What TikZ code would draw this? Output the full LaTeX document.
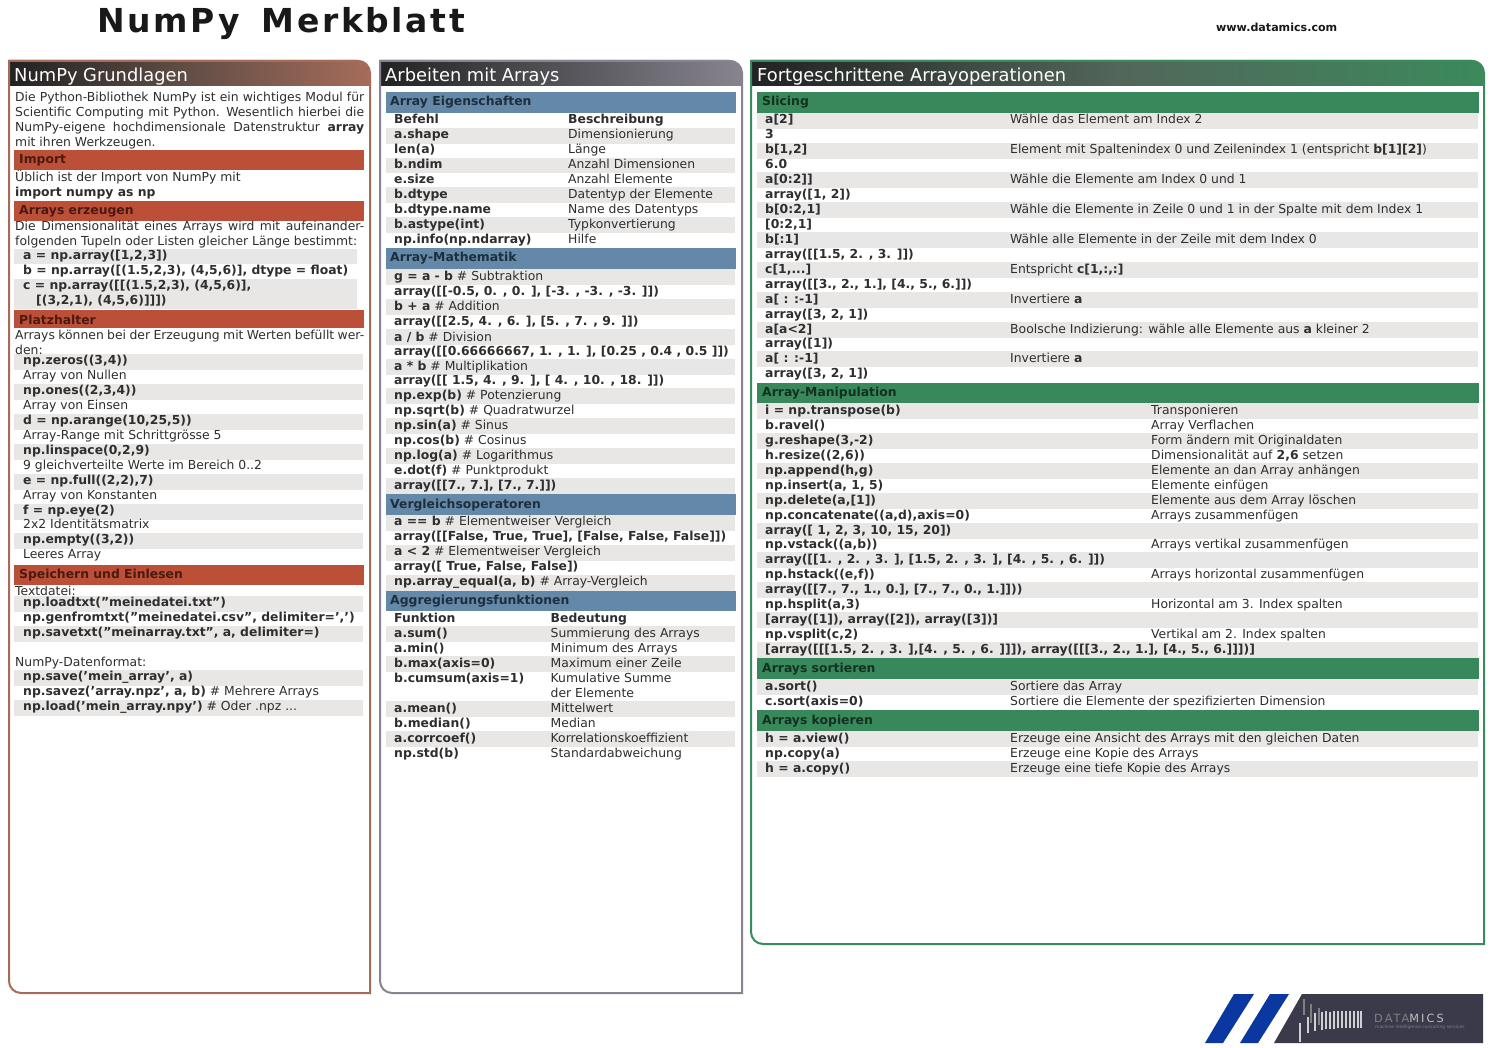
\documentclass[tikz,border=0pt]{standalone}
\usepackage{fontspec}
\setmainfont{DejaVu Sans}
\usetikzlibrary{positioning}

\definecolor{txtgray}{HTML}{2E2E2E}
\definecolor{stripegray}{HTML}{E9E7E6}
\definecolor{brownframe}{HTML}{A56C5A}
\definecolor{grayframe}{HTML}{87848F}
\definecolor{greenframe}{HTML}{3B8A5C}
\definecolor{headdark}{HTML}{222222}
\definecolor{brownmid}{HTML}{634E46}
\definecolor{greenmid}{HTML}{52665A}
\definecolor{barred}{HTML}{BC4F38}
\definecolor{barblue}{HTML}{6488A8}
\definecolor{bargreen}{HTML}{39885C}
\definecolor{lblred}{HTML}{4A1A10}
\definecolor{lblblue}{HTML}{1E2E3C}
\definecolor{lblgreen}{HTML}{12321F}
\definecolor{logoblue}{HTML}{0A37A0}
\definecolor{logodark}{HTML}{3B3A4A}
\definecolor{logobar}{HTML}{CFCFD4}

\begin{document}
\begin{tikzpicture}[x=1pt, y=-1pt, font=\fontsize{12.38}{15}\selectfont, text=txtgray]

\tikzset{
  txt/.style={anchor=base west, inner sep=0pt},
  para/.style={anchor=north west, inner sep=0pt, text width=349pt, align=justify},
  head/.style={anchor=base west, inner sep=0pt, text=white, font=\fontsize{17.85}{22}\selectfont},
  redlbl/.style={txt, text=lblred, font=\fontsize{12.38}{15}\selectfont\bfseries},
  bluelbl/.style={txt, text=lblblue, font=\fontsize{12.38}{15}\selectfont\bfseries},
  greenlbl/.style={txt, text=lblgreen, font=\fontsize{12.38}{15}\selectfont\bfseries},
  stripe/.style={fill=stripegray},
  logoline/.style={draw=logobar, line width=1.5pt}
}

\useasboundingbox (0,0) rectangle (1495,1048);
\fill[white] (0,0) rectangle (1495,1048);

% --- Titel ---
\node[txt, font=\fontsize{33}{36}\selectfont\bfseries\addfontfeature{LetterSpace=8}, text=black!90] (title) at (97,32.5) {NumPy\hspace{8pt} Merkblatt};
\node[txt, font=\fontsize{11.1}{13}\selectfont\bfseries, text=black!90] (web) at (1216,32) {www.datamics.com};

% --- Kopfzeilen und Rahmen ---
\shade[left color=headdark, right color=brownframe, middle color=brownmid] (9,60) -- (358,60) arc[start angle=-90, end angle=0, radius=12] -- (370,86) -- (9,86) -- cycle;
\shade[left color=headdark, right color=grayframe] (380,60) -- (730,60) arc[start angle=-90, end angle=0, radius=12] -- (742,86) -- (380,86) -- cycle;
\shade[left color=headdark, right color=greenframe, middle color=greenmid] (751,60) -- (1472,60) arc[start angle=-90, end angle=0, radius=12] -- (1484,86) -- (751,86) -- cycle;
\draw[brownframe, line width=2pt] (9,61) -- (358,61) arc[start angle=-90, end angle=0, radius=12] -- (370,993) -- (21,993) arc[start angle=90, end angle=180, radius=12] -- cycle;
\draw[grayframe, line width=2pt] (380,61) -- (730,61) arc[start angle=-90, end angle=0, radius=12] -- (742,993) -- (392,993) arc[start angle=90, end angle=180, radius=12] -- cycle;
\draw[greenframe, line width=2pt] (751,61) -- (1472,61) arc[start angle=-90, end angle=0, radius=12] -- (1484,944) -- (763,944) arc[start angle=90, end angle=180, radius=12] -- cycle;
\node[head] (headL) at (14,81.5) {NumPy Grundlagen};
\node[head] (headM) at (385,81.5) {Arbeiten mit Arrays};
\node[head] (headR) at (757,81.5) {Fortgeschrittene Arrayoperationen};

% --- Balken ---
\fill[barred] (14,150) rectangle (364,170);
\fill[barred] (14,201) rectangle (364,221);
\fill[barred] (14,310) rectangle (364,328);
\fill[barred] (14,565) rectangle (364,585);
\fill[barblue] (386,92) rectangle (736,113);
\fill[barblue] (386,248) rectangle (736,269);
\fill[barblue] (386,494) rectangle (736,515);
\fill[barblue] (386,591) rectangle (736,611);
\fill[bargreen] (757,92) rectangle (1479,113);
\fill[bargreen] (757,383) rectangle (1479,403);
\fill[bargreen] (757,658) rectangle (1479,679);
\fill[bargreen] (757,710) rectangle (1479,731);

% --- Zeilenstreifen links ---
\fill[stripe] (14,249) rectangle (357,264);
\fill[stripe] (14,279) rectangle (357,309);
\fill[stripe] (14,354) rectangle (363,370);
\fill[stripe] (14,384) rectangle (363,400);
\fill[stripe] (14,414) rectangle (363,430);
\fill[stripe] (14,444) rectangle (363,460);
\fill[stripe] (14,474) rectangle (363,490);
\fill[stripe] (14,504) rectangle (363,520);
\fill[stripe] (14,533) rectangle (363,549);
\fill[stripe] (14,596) rectangle (363,612);
\fill[stripe] (14,626) rectangle (363,642);
\fill[stripe] (14,670) rectangle (363,686);
\fill[stripe] (14,700) rectangle (363,716);

% --- Zeilenstreifen Mitte ---
\fill[stripe] (386,128) rectangle (735,144);
\fill[stripe] (386,158) rectangle (735,173);
\fill[stripe] (386,187) rectangle (735,203);
\fill[stripe] (386,217) rectangle (735,233);
\fill[stripe] (386,269) rectangle (735,285);
\fill[stripe] (386,299) rectangle (735,315);
\fill[stripe] (386,329) rectangle (735,345);
\fill[stripe] (386,359) rectangle (735,375);
\fill[stripe] (386,388) rectangle (735,404);
\fill[stripe] (386,418) rectangle (735,434);
\fill[stripe] (386,448) rectangle (735,464);
\fill[stripe] (386,478) rectangle (735,494);
\fill[stripe] (386,515) rectangle (735,531);
\fill[stripe] (386,545) rectangle (735,561);
\fill[stripe] (386,575) rectangle (735,591);
\fill[stripe] (386,626) rectangle (735,642);
\fill[stripe] (386,656) rectangle (735,672);
\fill[stripe] (386,701) rectangle (735,717);
\fill[stripe] (386,731) rectangle (735,747);

% --- Zeilenstreifen rechts ---
\fill[stripe] (757,113) rectangle (1478,129);
\fill[stripe] (757,143) rectangle (1478,159);
\fill[stripe] (757,172) rectangle (1478,188);
\fill[stripe] (757,202) rectangle (1478,218);
\fill[stripe] (757,232) rectangle (1478,248);
\fill[stripe] (757,262) rectangle (1478,278);
\fill[stripe] (757,292) rectangle (1478,308);
\fill[stripe] (757,322) rectangle (1478,338);
\fill[stripe] (757,351) rectangle (1478,367);
\fill[stripe] (757,403) rectangle (1478,419);
\fill[stripe] (757,433) rectangle (1478,449);
\fill[stripe] (757,463) rectangle (1478,479);
\fill[stripe] (757,493) rectangle (1478,509);
\fill[stripe] (757,523) rectangle (1478,539);
\fill[stripe] (757,552) rectangle (1478,568);
\fill[stripe] (757,582) rectangle (1478,598);
\fill[stripe] (757,612) rectangle (1478,628);
\fill[stripe] (757,642) rectangle (1478,658);
\fill[stripe] (757,679) rectangle (1478,695);
\fill[stripe] (757,731) rectangle (1478,747);
\fill[stripe] (757,761) rectangle (1478,777);

% --- Linke Spalte ---
\node[para] (intro) at (15,92) {Die Python-Bibliothek NumPy ist ein wichtiges Modul für\linebreak Scientific Computing mit Python. Wesentlich hierbei die\linebreak NumPy-eigene hochdimensionale Datenstruktur \textbf{array}\linebreak mit ihren Werkzeugen.};

\node[redlbl] (imp) at (19,163.5) {Import};
\node[txt] (imp1) at (15,182) {Üblich ist der Import von NumPy mit};
\node[txt] (imp2) at (15,197) {\textbf{import numpy as np}};

\node[redlbl] (erz) at (19,214.5) {Arrays erzeugen};
\node[para] (erz1) at (15,221) {Die Dimensionalität eines Arrays wird mit aufeinander-\linebreak folgenden Tupeln oder Listen gleicher Länge bestimmt:};
\node[txt] (erzA) at (23,260) {\textbf{a = np.array([1,2,3])}};
\node[txt] (erzB) at (23,275) {\textbf{b = np.array([(1.5,2,3), (4,5,6)], dtype = float)}};
\node[txt] (erzC) at (23,290) {\textbf{c = np.array([[(1.5,2,3), (4,5,6)],}};
\node[txt] (erzD) at (36,305) {\textbf{[(3,2,1), (4,5,6)]]])}};

\node[redlbl] (plz) at (19,324) {Platzhalter};
\node[para] (plz1) at (15,329.5) {Arrays können bei der Erzeugung mit Werten befüllt wer-\linebreak den:};
\node[txt] (plzA) at (23,364) {\textbf{np.zeros((3,4))}};
\node[txt] (plzB) at (23,379) {Array von Nullen};
\node[txt] (plzC) at (23,394) {\textbf{np.ones((2,3,4))}};
\node[txt] (plzD) at (23,409) {Array von Einsen};
\node[txt] (plzE) at (23,424) {\textbf{d = np.arange(10,25,5))}};
\node[txt] (plzF) at (23,439) {Array-Range mit Schrittgrösse 5};
\node[txt] (plzG) at (23,454) {\textbf{np.linspace(0,2,9)}};
\node[txt] (plzH) at (23,469) {9 gleichverteilte Werte im Bereich 0..2};
\node[txt] (plzI) at (23,484) {\textbf{e = np.full((2,2),7)}};
\node[txt] (plzJ) at (23,499) {Array von Konstanten};
\node[txt] (plzK) at (23,514) {\textbf{f = np.eye(2)}};
\node[txt] (plzL) at (23,528) {2x2 Identitätsmatrix};
\node[txt] (plzM) at (23,543) {\textbf{np.empty((3,2))}};
\node[txt] (plzN) at (23,558) {Leeres Array};

\node[redlbl] (spe) at (19,578) {Speichern und Einlesen};
\node[txt] (speA) at (15,595) {Textdatei:};
\node[txt] (speB) at (23,606.5) {\textbf{np.loadtxt(”meinedatei.txt”)}};
\node[txt] (speC) at (23,621) {\textbf{np.genfromtxt(”meinedatei.csv”, delimiter=’,’)}};
\node[txt] (speD) at (23,636) {\textbf{np.savetxt(”meinarray.txt”, a, delimiter=)}};
\node[txt] (speE) at (15,666) {NumPy-Datenformat:};
\node[txt] (speF) at (23,680) {\textbf{np.save(’mein\_array’, a)}};
\node[txt] (speG) at (23,695) {\textbf{np.savez(’array.npz’, a, b)} \# Mehrere Arrays};
\node[txt] (speH) at (23,710) {\textbf{np.load(’mein\_array.npy’)} \# Oder .npz ...};

% --- Mittlere Spalte ---
\node[bluelbl] (eig) at (390,106) {Array Eigenschaften};
\node[txt] (eigA) at (394,124) {\textbf{Befehl}};
\node[txt] (eigAb) at (568,124) {\textbf{Beschreibung}};
\node[txt] (eigB) at (394,139) {\textbf{a.shape}};
\node[txt] (eigBb) at (568,139) {Dimensionierung};
\node[txt] (eigC) at (394,154) {\textbf{len(a)}};
\node[txt] (eigCb) at (568,154) {Länge};
\node[txt] (eigD) at (394,169) {\textbf{b.ndim}};
\node[txt] (eigDb) at (568,169) {Anzahl Dimensionen};
\node[txt] (eigE) at (394,184) {\textbf{e.size}};
\node[txt] (eigEb) at (568,184) {Anzahl Elemente};
\node[txt] (eigF) at (394,199) {\textbf{b.dtype}};
\node[txt] (eigFb) at (568,199) {Datentyp der Elemente};
\node[txt] (eigG) at (394,214) {\textbf{b.dtype.name}};
\node[txt] (eigGb) at (568,214) {Name des Datentyps};
\node[txt] (eigH) at (394,229) {\textbf{b.astype(int)}};
\node[txt] (eigHb) at (568,229) {Typkonvertierung};
\node[txt] (eigI) at (394,244) {\textbf{np.info(np.ndarray)}};
\node[txt] (eigIb) at (568,244) {Hilfe};

\node[bluelbl] (mat) at (390,262) {Array-Mathematik};
\node[txt] (matA) at (394,281) {\textbf{g = a - b} \# Subtraktion};
\node[txt] (matB) at (394,296) {\textbf{array([[-0.5, 0. , 0. ], [-3. , -3. , -3. ]])}};
\node[txt] (matC) at (394,311) {\textbf{b + a} \# Addition};
\node[txt] (matD) at (394,326) {\textbf{array([[2.5, 4. , 6. ], [5. , 7. , 9. ]])}};
\node[txt] (matE) at (394,341) {\textbf{a / b} \# Division};
\node[txt] (matF) at (394,355.5) {\textbf{array([[0.66666667, 1. , 1. ], [0.25 , 0.4 , 0.5 ]])}};
\node[txt] (matG) at (394,370) {\textbf{a * b} \# Multiplikation};
\node[txt] (matH) at (394,384.5) {\textbf{array([[ 1.5, 4. , 9. ], [ 4. , 10. , 18. ]])}};
\node[txt] (matI) at (394,399.5) {\textbf{np.exp(b)} \# Potenzierung};
\node[txt] (matJ) at (394,414.5) {\textbf{np.sqrt(b)} \# Quadratwurzel};
\node[txt] (matK) at (394,429.5) {\textbf{np.sin(a)} \# Sinus};
\node[txt] (matL) at (394,444.5) {\textbf{np.cos(b)} \# Cosinus};
\node[txt] (matM) at (394,459.5) {\textbf{np.log(a)} \# Logarithmus};
\node[txt] (matN) at (394,474.5) {\textbf{e.dot(f)} \# Punktprodukt};
\node[txt] (matO) at (394,489.5) {\textbf{array([[7., 7.], [7., 7.]])}};

\node[bluelbl] (vgl) at (390,508) {Vergleichsoperatoren};
\node[txt] (vglA) at (394,525.5) {\textbf{a == b} \# Elementweiser Vergleich};
\node[txt] (vglB) at (394,540.5) {\textbf{array([[False, True, True], [False, False, False]])}};
\node[txt] (vglC) at (394,555.5) {\textbf{a < 2} \# Elementweiser Vergleich};
\node[txt] (vglD) at (394,570.5) {\textbf{array([ True, False, False])}};
\node[txt] (vglE) at (394,585) {\textbf{np.array\_equal(a, b)} \# Array-Vergleich};

\node[bluelbl] (agg) at (390,604) {Aggregierungsfunktionen};
\node[txt] (aggA) at (394,622) {\textbf{Funktion}};
\node[txt] (aggAb) at (550.5,622) {\textbf{Bedeutung}};
\node[txt] (aggB) at (394,637) {\textbf{a.sum()}};
\node[txt] (aggBb) at (550.5,637) {Summierung des Arrays};
\node[txt] (aggC) at (394,652) {\textbf{a.min()}};
\node[txt] (aggCb) at (550.5,652) {Minimum des Arrays};
\node[txt] (aggD) at (394,667) {\textbf{b.max(axis=0)}};
\node[txt] (aggDb) at (550.5,667) {Maximum einer Zeile};
\node[txt] (aggE) at (394,682) {\textbf{b.cumsum(axis=1)}};
\node[txt] (aggEb) at (550.5,682) {Kumulative Summe};
\node[txt] (aggEc) at (550.5,697) {der Elemente};
\node[txt] (aggF) at (394,712) {\textbf{a.mean()}};
\node[txt] (aggFb) at (550.5,712) {Mittelwert};
\node[txt] (aggG) at (394,727) {\textbf{b.median()}};
\node[txt] (aggGb) at (550.5,727) {Median};
\node[txt] (aggH) at (394,742) {\textbf{a.corrcoef()}};
\node[txt] (aggHb) at (550.5,742) {Korrelationskoeffizient};
\node[txt] (aggI) at (394,757) {\textbf{np.std(b)}};
\node[txt] (aggIb) at (550.5,757) {Standardabweichung};

% --- Rechte Spalte ---
\node[greenlbl] (sli) at (762,106) {Slicing};
\node[txt] (sliA) at (765,124) {\textbf{a[2]}};
\node[txt] (sliAb) at (1010,124) {Wähle das Element am Index 2};
\node[txt] (sliB) at (765,139) {\textbf{3}};
\node[txt] (sliC) at (765,154) {\textbf{b[1,2]}};
\node[txt] (sliCb) at (1010,154) {Element mit Spaltenindex 0 und Zeilenindex 1 (entspricht \textbf{b[1][2]})};
\node[txt] (sliD) at (765,169) {\textbf{6.0}};
\node[txt] (sliE) at (765,183.5) {\textbf{a[0:2]]}};
\node[txt] (sliEb) at (1010,183.5) {Wähle die Elemente am Index 0 und 1};
\node[txt] (sliF) at (765,198.5) {\textbf{array([1, 2])}};
\node[txt] (sliG) at (765,213.5) {\textbf{b[0:2,1]}};
\node[txt] (sliGb) at (1010,213.5) {Wähle die Elemente in Zeile 0 und 1 in der Spalte mit dem Index 1};
\node[txt] (sliH) at (765,228.5) {\textbf{[0:2,1]}};
\node[txt] (sliI) at (765,243.5) {\textbf{b[:1]}};
\node[txt] (sliIb) at (1010,243.5) {Wähle alle Elemente in der Zeile mit dem Index 0};
\node[txt] (sliJ) at (765,258.5) {\textbf{array([[1.5, 2. , 3. ]])}};
\node[txt] (sliK) at (765,273.5) {\textbf{c[1,...]}};
\node[txt] (sliKb) at (1010,273.5) {Entspricht \textbf{c[1,:,:]}};
\node[txt] (sliL) at (765,288.5) {\textbf{array([[3., 2., 1.], [4., 5., 6.]])}};
\node[txt] (sliM) at (765,303.5) {\textbf{a[ : :-1]}};
\node[txt] (sliMb) at (1010,303.5) {Invertiere \textbf{a}};
\node[txt] (sliN) at (765,318) {\textbf{array([3, 2, 1])}};
\node[txt] (sliO) at (765,333) {\textbf{a[a<2]}};
\node[txt] (sliOb) at (1010,333) {Boolsche Indizierung: wähle alle Elemente aus \textbf{a} kleiner 2};
\node[txt] (sliP) at (765,347) {\textbf{array([1])}};
\node[txt] (sliQ) at (765,362) {\textbf{a[ : :-1]}};
\node[txt] (sliQb) at (1010,362) {Invertiere \textbf{a}};
\node[txt] (sliR) at (765,377) {\textbf{array([3, 2, 1])}};

\node[greenlbl] (man) at (762,396.5) {Array-Manipulation};
\node[txt] (manA) at (765,414) {\textbf{i = np.transpose(b)}};
\node[txt] (manAb) at (1151,414) {Transponieren};
\node[txt] (manB) at (765,429) {\textbf{b.ravel()}};
\node[txt] (manBb) at (1151,429) {Array Verflachen};
\node[txt] (manC) at (765,444) {\textbf{g.reshape(3,-2)}};
\node[txt] (manCb) at (1151,444) {Form ändern mit Originaldaten};
\node[txt] (manD) at (765,459) {\textbf{h.resize((2,6))}};
\node[txt] (manDb) at (1151,459) {Dimensionalität auf \textbf{2,6} setzen};
\node[txt] (manE) at (765,474) {\textbf{np.append(h,g)}};
\node[txt] (manEb) at (1151,474) {Elemente an dan Array anhängen};
\node[txt] (manF) at (765,489) {\textbf{np.insert(a, 1, 5)}};
\node[txt] (manFb) at (1151,489) {Elemente einfügen};
\node[txt] (manG) at (765,504) {\textbf{np.delete(a,[1])}};
\node[txt] (manGb) at (1151,504) {Elemente aus dem Array löschen};
\node[txt] (manH) at (765,519) {\textbf{np.concatenate((a,d),axis=0)}};
\node[txt] (manHb) at (1151,519) {Arrays zusammenfügen};
\node[txt] (manI) at (765,534) {\textbf{array([ 1, 2, 3, 10, 15, 20])}};
\node[txt] (manJ) at (765,548) {\textbf{np.vstack((a,b))}};
\node[txt] (manJb) at (1151,548) {Arrays vertikal zusammenfügen};
\node[txt] (manK) at (765,563.5) {\textbf{array([[1. , 2. , 3. ], [1.5, 2. , 3. ], [4. , 5. , 6. ]])}};
\node[txt] (manL) at (765,578) {\textbf{np.hstack((e,f))}};
\node[txt] (manLb) at (1151,578) {Arrays horizontal zusammenfügen};
\node[txt] (manM) at (765,593.5) {\textbf{array([[7., 7., 1., 0.], [7., 7., 0., 1.]]))}};
\node[txt] (manN) at (765,608) {\textbf{np.hsplit(a,3)}};
\node[txt] (manNb) at (1151,608) {Horizontal am 3. Index spalten};
\node[txt] (manO) at (765,623) {\textbf{[array([1]), array([2]), array([3])]}};
\node[txt] (manP) at (765,638) {\textbf{np.vsplit(c,2)}};
\node[txt] (manPb) at (1151,638) {Vertikal am 2. Index spalten};
\node[txt] (manQ) at (765,653) {\textbf{[array([[[1.5, 2. , 3. ],[4. , 5. , 6. ]]]), array([[[3., 2., 1.], [4., 5., 6.]]])]}};

\node[greenlbl] (sor) at (762,672) {Arrays sortieren};
\node[txt] (sorA) at (765,690.5) {\textbf{a.sort()}};
\node[txt] (sorAb) at (1010,690.5) {Sortiere das Array};
\node[txt] (sorB) at (765,705.5) {\textbf{c.sort(axis=0)}};
\node[txt] (sorBb) at (1010,705.5) {Sortiere die Elemente der spezifizierten Dimension};

\node[greenlbl] (kop) at (762,724) {Arrays kopieren};
\node[txt] (kopA) at (765,742.5) {\textbf{h = a.view()}};
\node[txt] (kopAb) at (1010,742.5) {Erzeuge eine Ansicht des Arrays mit den gleichen Daten};
\node[txt] (kopB) at (765,757.5) {\textbf{np.copy(a)}};
\node[txt] (kopBb) at (1010,757.5) {Erzeuge eine Kopie des Arrays};
\node[txt] (kopC) at (765,772.5) {\textbf{h = a.copy()}};
\node[txt] (kopCb) at (1010,772.5) {Erzeuge eine tiefe Kopie des Arrays};

% --- Logo ---
\fill[logoblue] (1205,1043) -- (1223,1043) -- (1254,994) -- (1234,994) -- cycle;
\fill[logoblue] (1240,1043) -- (1258,1043) -- (1289,994) -- (1270,994) -- cycle;
\fill[logodark] (1274,1043) -- (1302,994) -- (1483,994) -- (1483,1043) -- cycle;
\draw[logoline] (1300,1023) -- (1300,1042);
\draw[logoline, draw=gray] (1304,999) -- (1304,1015);
\draw[logoline] (1308,1017) -- (1308,1033);
\draw[logoline, draw=gray] (1311,1004) -- (1311,1023);
\draw[logoline] (1315,1013) -- (1315,1031);
\draw[logoline, draw=gray] (1319,1008) -- (1319,1025);
\draw[logoline] (1322,1012) -- (1322,1030);
\draw[logoline] (1326,1011) -- (1326,1029);
\draw[logoline] (1330,1012) -- (1330,1029);
\draw[logoline] (1334,1011) -- (1334,1029);
\draw[logoline] (1338,1011) -- (1338,1028);
\draw[logoline] (1342,1011) -- (1342,1028);
\draw[logoline] (1346,1011) -- (1346,1028);
\draw[logoline] (1350,1011) -- (1350,1028);
\draw[logoline] (1354,1011) -- (1354,1028);
\draw[logoline] (1358,1011) -- (1358,1028);
\draw[logoline] (1361,1011) -- (1361,1028);
\node[txt, text=gray, font=\fontsize{11.3}{12}\selectfont\addfontfeature{LetterSpace=18}] (logoname) at (1374,1022.5) {DATA\textcolor{lightgray}{MICS}};
\node[txt, text=gray, font=\fontsize{4.4}{5}\selectfont] (logosub) at (1375,1028) {machine intelligence consulting services};

\end{tikzpicture}
\end{document}
